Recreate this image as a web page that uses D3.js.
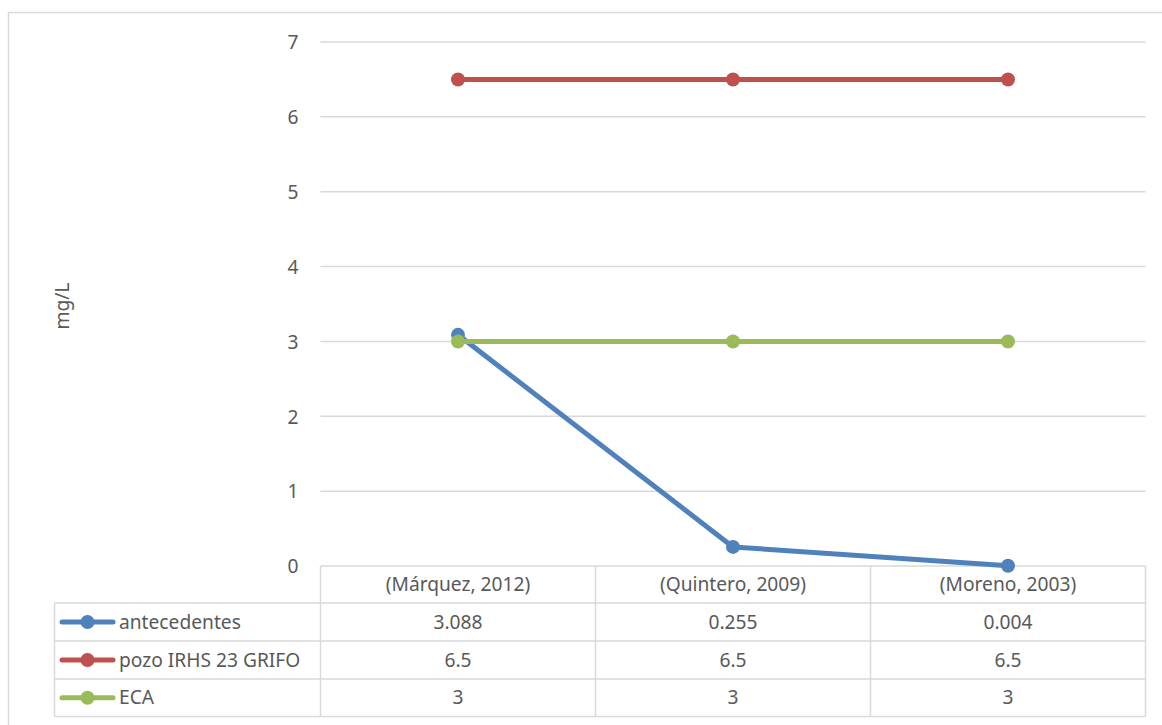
<!DOCTYPE html>
<html>
<head>
<meta charset="utf-8">
<script src="https://cdn.jsdelivr.net/npm/d3@7"></script>
<style>
  html, body { margin: 0; padding: 0; background: #fff; }
  svg text { font-family: "Noto Sans", "Open Sans", sans-serif; fill: #595959; }
</style>
</head>
<body>
<svg id="chart" width="1162" height="725"></svg>
<script>
// Sources compared
const categories = ["(Márquez, 2012)", "(Quintero, 2009)", "(Moreno, 2003)"];

// Concentration per source (mg/L)
const antecedentes = [3.088, 0.255, 0.004];
const pozo = [6.5, 6.5, 6.5];
const eca = [3, 3, 3];

// Displayed values in the data table
const antecedentesLabels = ["3.088", "0.255", "0.004"];
const pozoLabels = ["6.5", "6.5", "6.5"];
const ecaLabels = ["3", "3", "3"];

const yTicks = [0, 1, 2, 3, 4, 5, 6, 7];

const series = [
  { name: "antecedentes", values: antecedentes, labels: antecedentesLabels, color: "#4F81BD" },
  { name: "pozo IRHS 23 GRIFO", values: pozo, labels: pozoLabels, color: "#C0504D" },
  { name: "ECA", values: eca, labels: ecaLabels, color: "#9BBB59" }
];

const svg = d3.select("#chart");
const gridColor = "#d9d9d9";
const fontSize = 19.2;

// outer chart frame (extends past the visible area)
svg.append("rect")
  .attr("x", 8.5).attr("y", 12.5)
  .attr("width", 1200).attr("height", 800)
  .attr("fill", "none").attr("stroke", gridColor).attr("stroke-width", 1.5);

const plot = { left: 320.5, right: 1145.5, top: 42, bottom: 566 };

const x = d3.scaleBand().domain(categories).range([plot.left, plot.right]);
const y = d3.scaleLinear().domain([0, 7]).range([plot.bottom, plot.top]);

// horizontal gridlines
svg.append("g").selectAll("line")
  .data(yTicks.filter(t => t > 0))
  .join("line")
  .attr("x1", plot.left).attr("x2", plot.right)
  .attr("y1", d => y(d)).attr("y2", d => y(d))
  .attr("stroke", gridColor).attr("stroke-width", 1.5);

// y axis tick labels
const yAxis = d3.axisLeft(y).tickValues(yTicks).tickFormat(d3.format("d")).tickSize(0).tickPadding(0);
const yg = svg.append("g").attr("transform", `translate(${plot.left - 22},0)`).call(yAxis);
yg.select(".domain").remove();
yg.selectAll("text")
  .attr("font-size", fontSize).attr("fill", "#595959")
  .attr("font-family", "Noto Sans, sans-serif")
  .attr("dy", "0.35em");

// y axis title
svg.append("text")
  .attr("transform", "translate(69,306) rotate(-90)")
  .attr("text-anchor", "middle")
  .attr("font-size", fontSize)
  .text("mg/L");

// data table
const table = {
  left: 54.5,
  headerTop: 566,
  rowTops: [603, 641, 679],
  bottom: 716.5
};
const tg = svg.append("g").attr("stroke", gridColor).attr("stroke-width", 1.5).attr("fill", "none");
// header row top and column lines
tg.append("line").attr("x1", plot.left).attr("x2", plot.right)
  .attr("y1", table.headerTop).attr("y2", table.headerTop);
[plot.left, ...categories.map(c => x(c) + x.bandwidth())].forEach(cx => {
  tg.append("line").attr("x1", cx).attr("x2", cx)
    .attr("y1", table.headerTop).attr("y2", table.bottom);
});
// row lines
[...table.rowTops, table.bottom].forEach(ry => {
  tg.append("line").attr("x1", table.left).attr("x2", plot.right)
    .attr("y1", ry).attr("y2", ry);
});
tg.append("line").attr("x1", table.left).attr("x2", table.left)
  .attr("y1", table.rowTops[0]).attr("y2", table.bottom);

// header labels
svg.append("g").selectAll("text")
  .data(categories).join("text")
  .attr("x", d => x(d) + x.bandwidth() / 2)
  .attr("y", (table.headerTop + table.rowTops[0]) / 2)
  .attr("dy", "0.35em")
  .attr("text-anchor", "middle")
  .attr("font-size", fontSize)
  .text(d => d);

// table rows: legend key, name, values
const rowBounds = [...table.rowTops, table.bottom];
series.forEach((s, i) => {
  const cy = (rowBounds[i] + rowBounds[i + 1]) / 2;
  const g = svg.append("g");
  g.append("line").attr("x1", 62).attr("x2", 113).attr("y1", cy).attr("y2", cy)
    .attr("stroke", s.color).attr("stroke-width", 5).attr("stroke-linecap", "round");
  g.append("circle").attr("cx", 87.5).attr("cy", cy).attr("r", 7).attr("fill", s.color);
  g.append("text").attr("x", 119).attr("y", cy).attr("dy", "0.35em")
    .attr("font-size", fontSize).text(s.name);
  g.selectAll("text.val").data(s.labels).join("text")
    .attr("class", "val")
    .attr("x", (d, j) => x(categories[j]) + x.bandwidth() / 2)
    .attr("y", cy).attr("dy", "0.35em")
    .attr("text-anchor", "middle")
    .attr("font-size", fontSize)
    .text(d => d);
});

// series lines and markers
const line = d3.line()
  .x((d, j) => x(categories[j]) + x.bandwidth() / 2)
  .y(d => y(d));

series.forEach(s => {
  svg.append("path")
    .datum(s.values)
    .attr("d", line)
    .attr("fill", "none")
    .attr("stroke", s.color)
    .attr("stroke-width", 5)
    .attr("stroke-linejoin", "round");
  svg.append("g").selectAll("circle")
    .data(s.values).join("circle")
    .attr("cx", (d, j) => x(categories[j]) + x.bandwidth() / 2)
    .attr("cy", d => y(d))
    .attr("r", 7)
    .attr("fill", s.color);
});
</script>
</body>
</html>
